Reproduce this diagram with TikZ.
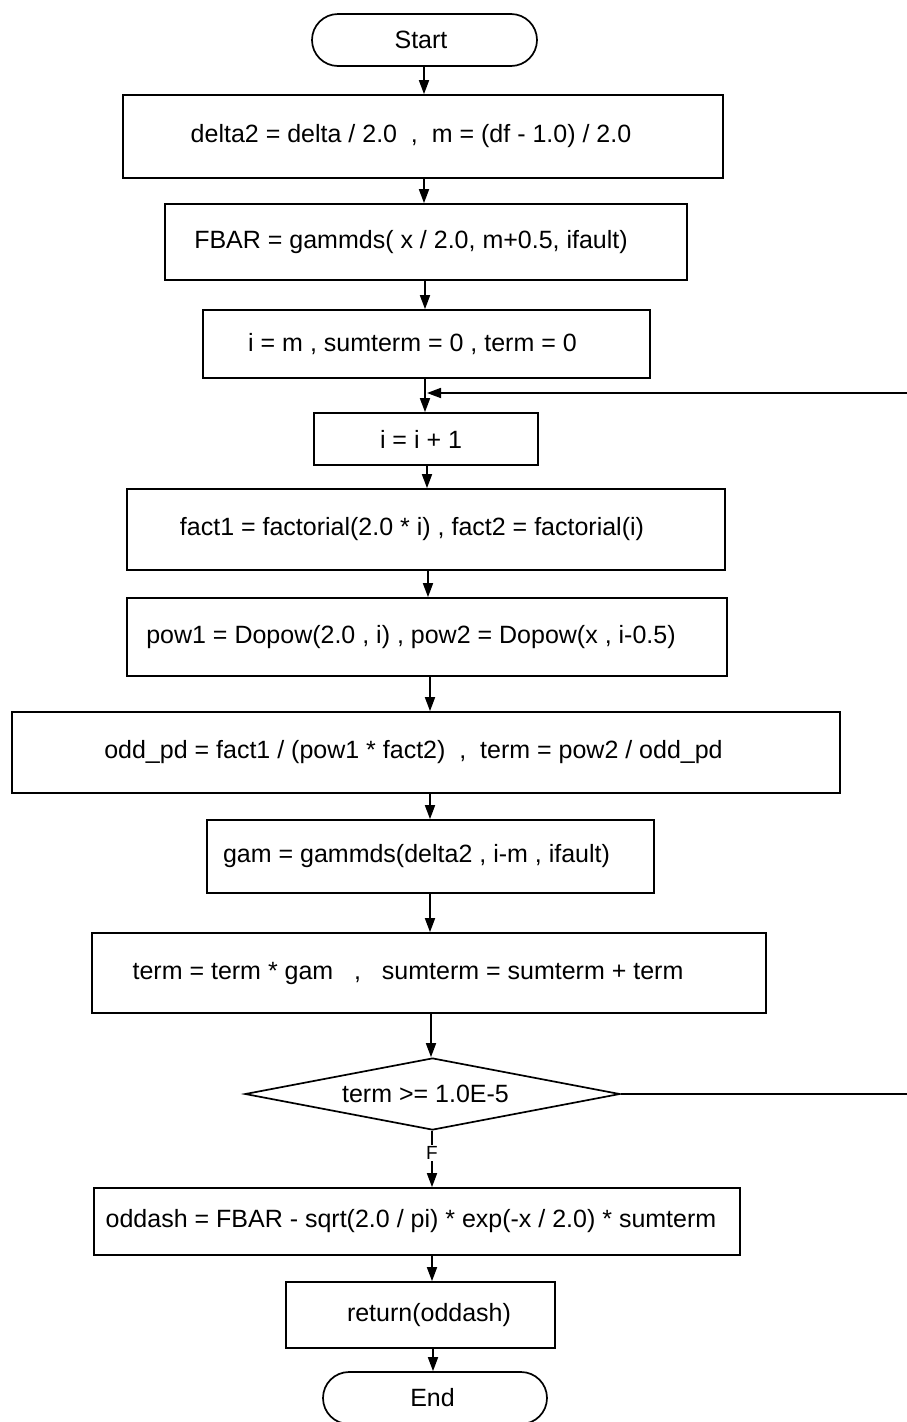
\documentclass[tikz,border=0pt]{standalone}
\usepackage{fontspec}
\setmainfont{Liberation Sans}
\usetikzlibrary{shapes.geometric,shapes.misc,arrows.meta}

% move a label sideways inside its box by half of #1
\newcommand\nudge[2]{\hspace*{#1}#2}

\begin{document}
\begin{tikzpicture}[x=1pt,y=-1pt,
  line width=1.7pt,
  every node/.style={font=\fontsize{25}{29}\selectfont, inner sep=0pt},
  proc/.style={draw, rectangle},
  term/.style={draw, rounded rectangle},
  cond/.style={draw, diamond},
  arr/.style={-{Triangle[length=14pt,width=10pt]}},
  flab/.style={fill=white, font=\fontsize{19}{22}\selectfont, inner sep=1.5pt}
]
\useasboundingbox (0,0) rectangle (907,1422);

% terminators
\node[term, minimum width=225pt, minimum height=52pt] (start) at (424.5,40) {\nudge{-7pt}{Start}};
\node[term, minimum width=224pt, minimum height=52pt] (stop) at (435,1398) {\nudge{-5pt}{End}};

% process boxes
\node[proc, minimum width=600pt, minimum height=83pt] (b1) at (423,136.5)
  {\nudge{-24pt}{delta2 = delta / 2.0~~,~~m = (df - 1.0) / 2.0}};
\node[proc, minimum width=522pt, minimum height=76pt] (b2) at (426,242)
  {\nudge{-30pt}{FBAR = gammds( x / 2.0, m+0.5, ifault)}};
\node[proc, minimum width=447pt, minimum height=68pt] (b3) at (426.5,344)
  {\nudge{-28pt}{i = m , sumterm = 0 , term = 0}};
\node[proc, minimum width=224pt, minimum height=52pt] (b4) at (426,439)
  {\nudge{-10pt}{i = i + 1}};
\node[proc, minimum width=598pt, minimum height=81pt] (b5) at (426,529.5)
  {\nudge{-28pt}{fact1 = factorial(2.0 * i) , fact2 = factorial(i)}};
\node[proc, minimum width=600pt, minimum height=78pt] (b6) at (427,637)
  {\nudge{-32pt}{pow1 = Dopow(2.0 , i) , pow2 = Dopow(x , i-0.5)}};
\node[proc, minimum width=828pt, minimum height=81pt] (b7) at (426,752.5)
  {\nudge{-25pt}{odd\_pd = fact1 / (pow1 * fact2)~~,~~term = pow2 / odd\_pd}};
\node[proc, minimum width=447pt, minimum height=73pt] (b8) at (430.5,856.5)
  {\nudge{-28pt}{gam = gammds(delta2 , i-m , ifault)}};
\node[proc, minimum width=674pt, minimum height=80pt] (b9) at (429,973)
  {\nudge{-42pt}{term = term * gam~~~,~~~sumterm = sumterm + term}};
\node[cond, minimum width=375pt, minimum height=72pt, aspect=5] (d1) at (432.5,1094)
  {\nudge{-14pt}{term >= 1.0E-5}};
\node[proc, minimum width=646pt, minimum height=67pt] (b10) at (417,1221.5)
  {\nudge{-12pt}{oddash = FBAR - sqrt(2.0 / pi) * exp(-x / 2.0) * sumterm}};
\node[proc, minimum width=269pt, minimum height=66pt] (b11) at (420.5,1315)
  {\nudge{17pt}{return(oddash)}};

% main flow
\draw[arr] (start.south -| 424,0) -- (b1.north -| 424,0);
\draw[arr] (b1.south -| 424,0) -- (b2.north -| 424,0);
\draw[arr] (b2.south -| 425,0) -- (b3.north -| 425,0);
\draw[arr] (b3.south -| 425,0) -- (b4.north -| 425,0);
\draw[arr] (b4.south -| 427,0) -- (b5.north -| 427,0);
\draw[arr] (b5.south -| 428,0) -- (b6.north -| 428,0);
\draw[arr] (b6.south -| 430,0) -- (b7.north -| 430,0);
\draw[arr] (b7.south -| 430,0) -- (b8.north -| 430,0);
\draw[arr] (b8.south -| 430,0) -- (b9.north -| 430,0);
\draw[arr] (b9.south -| 431,0) -- (d1.north -| 431,0);
\draw[arr] (d1.south -| 432,0) -- node[flab, pos=0.4] {F} (b10.north -| 432,0);
\draw[arr] (b10.south -| 432,0) -- (b11.north -| 432,0);
\draw[arr] (b11.south -| 433,0) -- (stop.north -| 433,0);

% loop back while the term is still large
\coordinate (join) at (427,393);
\draw[arr] (d1.east) -- (909,1094) -- (909,393) -- (join);
\end{tikzpicture}
\end{document}
